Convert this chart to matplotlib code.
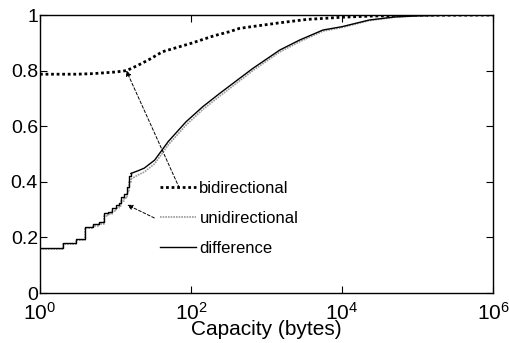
#!/usr/bin/env python3
"""CDF of capacity (bytes): bidirectional / unidirectional / difference."""
import matplotlib
matplotlib.use("Agg")
import matplotlib.pyplot as plt

# small sizes: step CDF over integer byte counts
STEP_X = [1, 2, 3, 4, 5, 6, 7, 8, 9, 10, 11, 12, 13, 14, 15, 16]
DIFF_STEP = [0.163, 0.179, 0.193, 0.239, 0.247, 0.254, 0.287, 0.292,
             0.305, 0.317, 0.323, 0.347, 0.356, 0.382, 0.421, 0.430]
UNI_STEP = [0.160, 0.175, 0.190, 0.233, 0.241, 0.247, 0.278, 0.284,
            0.296, 0.306, 0.312, 0.330, 0.340, 0.362, 0.400, 0.410]

# larger sizes: smooth part
SMOOTH_X = [16, 20, 24, 33, 50, 86, 143, 240, 440, 660, 1500, 2750,
            5600, 10000, 23000, 50000, 1e5, 3e5, 1e6]
DIFF_SMOOTH = [0.430, 0.440, 0.449, 0.478, 0.545, 0.616, 0.670, 0.718,
               0.772, 0.808, 0.874, 0.910, 0.946, 0.958, 0.982, 0.993,
               0.997, 1.0, 1.0]
UNI_SMOOTH = [0.410, 0.425, 0.435, 0.465, 0.533, 0.604, 0.660, 0.708,
              0.763, 0.800, 0.867, 0.904, 0.942, 0.955, 0.980, 0.992,
              0.997, 1.0, 1.0]

BI_X = [1, 3, 5, 10, 14, 19.5, 28, 42, 100, 200, 324, 440, 1500, 3400,
        10000, 23000, 1e5, 1e6]
BI_Y = [0.787, 0.787, 0.789, 0.795, 0.800, 0.818, 0.840, 0.868, 0.898,
        0.925, 0.940, 0.952, 0.972, 0.984, 0.992, 0.996, 0.999, 1.0]

LABELS = ["bidirectional", "unidirectional", "difference"]
XTICKS = [1, 1e2, 1e4, 1e6]
XTICKLABELS = [r"$10^0$", r"$10^2$", r"$10^4$", r"$10^6$"]
YTICKS = [0, 0.2, 0.4, 0.6, 0.8, 1]
YTICKLABELS = ["0", "0.2", "0.4", "0.6", "0.8", "1"]

plt.rcParams["font.family"] = ["Liberation Sans", "DejaVu Sans"]
plt.rcParams["mathtext.fontset"] = "custom"
plt.rcParams["mathtext.rm"] = "Liberation Sans"
plt.rcParams["mathtext.it"] = "Liberation Sans:italic"

fig = plt.figure(figsize=(5.09, 3.43), dpi=100)
ax = fig.add_axes([40 / 509, 50 / 343, 453 / 509, 278 / 343])

bi_style = dict(color="black", lw=2.0, linestyle=(0, (1, 1)))
uni_style = dict(color="0.6", lw=1.2, linestyle=(0, (1, 0.6)))
diff_style = dict(color="black", lw=1.0, linestyle="-")

ax.plot(BI_X, BI_Y, **bi_style)
ax.plot(STEP_X, UNI_STEP, drawstyle="steps-post", **uni_style)
ax.plot(SMOOTH_X, UNI_SMOOTH, **uni_style)
ax.plot(STEP_X, DIFF_STEP, drawstyle="steps-post", **diff_style)
ax.plot(SMOOTH_X, DIFF_SMOOTH, **diff_style)

ax.set_xscale("log")
ax.set_xlim(1, 1e6)
ax.set_ylim(0, 1)
ax.set_xticks(XTICKS)
ax.set_xticklabels(XTICKLABELS)
ax.xaxis.set_minor_locator(matplotlib.ticker.NullLocator())
ax.set_yticks(YTICKS)
ax.set_yticklabels(YTICKLABELS)
ax.tick_params(direction="in", length=5, width=0.8, labelsize=14,
               top=True, right=True)
ax.tick_params(axis="y", pad=1.5)
ax.tick_params(axis="x", pad=6.5, labelsize=15)
for s in ax.spines.values():
    s.set_linewidth(1.0)
ax.set_xlabel("Capacity (bytes)", fontsize=15, labelpad=-2.5)

# legend without frame, placed in data area
ax.legend([plt.Line2D([], [], **bi_style),
           plt.Line2D([], [], **uni_style),
           plt.Line2D([], [], **diff_style)],
          LABELS, frameon=False, fontsize=12, borderpad=0,
          loc="upper left", bbox_to_anchor=(0.247, 0.433),
          handlelength=2.15, handletextpad=0.2, labelspacing=0.89)

arrow = dict(arrowstyle="-|>", linestyle=(0, (3, 2)), lw=0.7, color="black",
             mutation_scale=8, shrinkA=0, shrinkB=0)
ax.annotate("", xy=(13.9, 0.80), xytext=(70, 0.378), arrowprops=arrow)
ax.annotate("", xy=(14.3, 0.317), xytext=(32.7, 0.27), arrowprops=arrow)

fig.savefig("out.png", dpi=100)
